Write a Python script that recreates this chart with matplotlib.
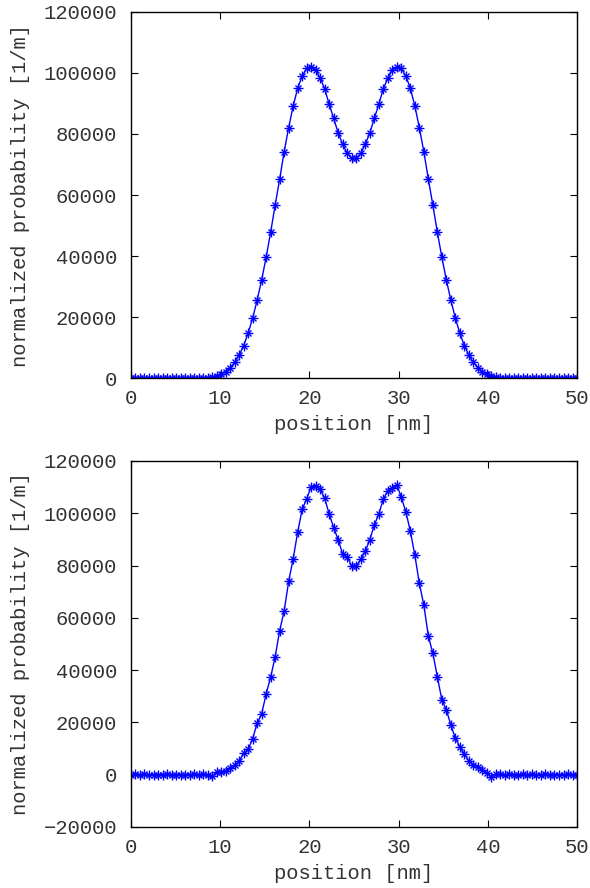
import matplotlib
matplotlib.use("Agg")
import matplotlib.pyplot as plt
import numpy as np

# grid: 100 points between 0 and 50 nm
position_nm = np.linspace(0, 50, 100)

# theoretical probability density (top panel)
prob_theory = [
    0, 0, 0, 0, 0, 0, 0, 0, 0, 0,
    0, 0, 0, 0, 0, 20, 60, 150, 320, 650,
    1200, 2100, 3400, 5100, 7500, 10600, 14700, 19600, 25500, 32100,
    39600, 47800, 56700, 65200, 74200, 82100, 89200, 95000, 99000, 101500,
    102000, 101000, 98300, 94800, 89700, 85100, 80300, 76600, 73700, 72000,
    72000, 73700, 76600, 80300, 85100, 89700, 94800, 98300, 101000, 102000,
    101500, 99000, 95000, 89200, 82100, 74200, 65200, 56700, 47800, 39600,
    32100, 25500, 19600, 14700, 10600, 7500, 5100, 3400, 2100, 1200,
    650, 320, 150, 60, 20, 0, 0, 0, 0, 0,
    0, 0, 0, 0, 0, 0, 0, 0, 0, 0,
]

# sampled probability density (bottom panel)
prob_sampled = [
    0, 100, -50, 80, 0, -100, 50, 0, 120, -80,
    0, 60, -120, 0, 90, -60, 100, 0, -600, 900,
    1100, 1500, 2400, 3700, 5200, 8200, 9700, 13700, 19700, 23200,
    30900, 37300, 45100, 55100, 62600, 74000, 82600, 92800, 101500, 105500,
    110200, 110600, 109200, 105700, 99600, 94500, 89800, 84300, 83200, 79800,
    79800, 82400, 85500, 89800, 95500, 99600, 105400, 108600, 109600, 110900,
    106100, 100600, 93200, 84000, 73200, 64900, 53100, 46400, 37500, 28600,
    24800, 19000, 13900, 10700, 7900, 5200, 3700, 3100, 1800, 500,
    -800, 300, 150, -100, 200, 0, -150, 100, 0, 80,
    -60, 0, 120, -100, 50, 0, -80, 100, 0, 0,
]

plt.rcParams['font.family'] = ['Liberation Mono', 'DejaVu Sans Mono']
plt.rcParams['font.size'] = 14.8

fig = plt.figure(figsize=(5.9, 8.88), dpi=100)
ax1 = fig.add_axes([0.222, 0.5743, 0.756, 0.4122])
ax2 = fig.add_axes([0.222, 0.0687, 0.756, 0.4122])

for ax, data, ylo in [(ax1, prob_theory, 0), (ax2, prob_sampled, -20000)]:
    ax.plot(position_nm, data, color='#0000ff', lw=1.0)
    ax.plot(position_nm, data, ls='none', marker='+', ms=6.5, mew=1.0, color='#0000ff')
    ax.plot(position_nm, data, ls='none', marker='x', ms=5, mew=1.0, color='#0000ff')
    ax.set_xlim(0, 50)
    ax.set_ylim(ylo, 120000)
    ax.set_xticks(np.arange(0, 51, 10))
    ax.set_yticks(np.arange(ylo, 120001, 20000))
    ax.tick_params(direction='in', top=True, right=True, length=5, width=0.8,
                   colors='black', labelcolor='#333333')
    ax.tick_params(axis='y', pad=10)
    ax.tick_params(axis='x', pad=8)
    for s in ax.spines.values():
        s.set_linewidth(1.0)
    ax.set_xlabel('position [nm]', labelpad=5, color='#333333')
    ax.set_ylabel('normalized probability [1/m]', color='#333333')
    ax.yaxis.set_label_coords(-0.226, 0.5)

fig.savefig('out.png', dpi=100)
